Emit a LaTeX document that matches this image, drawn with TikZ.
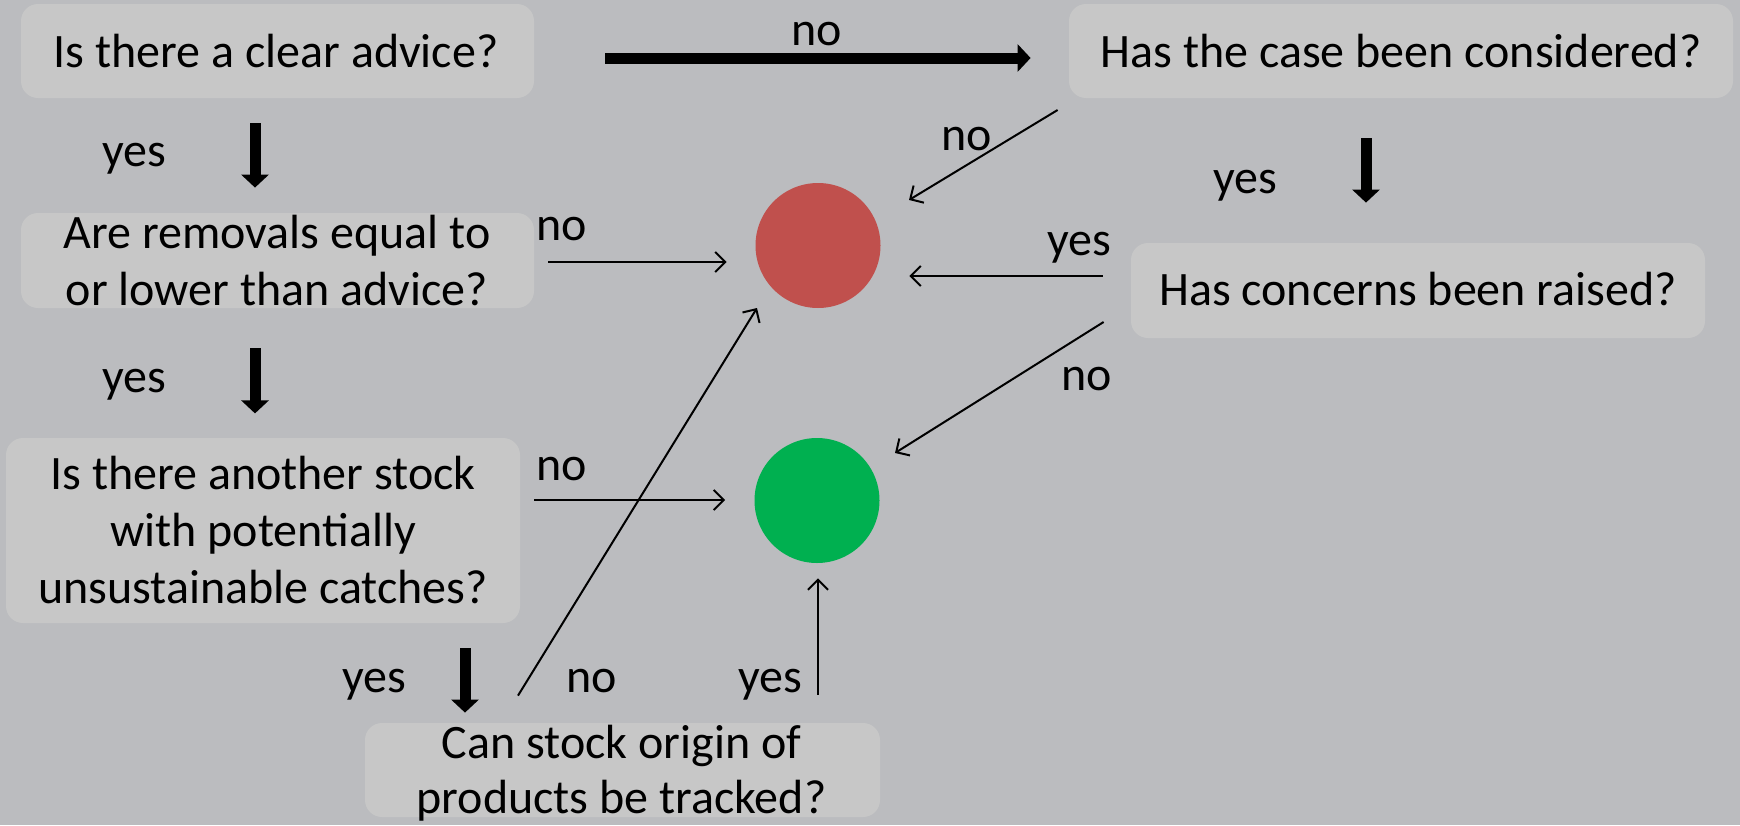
\documentclass[tikz,border=0pt]{standalone}
\usepackage{fontspec}
\setmainfont{Carlito}
\usetikzlibrary{arrows.meta,calc}
\definecolor{bggray}{RGB}{187,188,191}
\definecolor{boxgray}{RGB}{199,199,199}
\definecolor{redc}{RGB}{192,80,77}
\definecolor{greenc}{RGB}{0,176,80}
\tikzset{
  qbox/.style={draw=none, fill=boxgray, rounded corners=8.5pt, inner sep=0pt},
  qtext/.style={align=center, font=\fontsize{24}{28.5}\selectfont, inner sep=0pt, anchor=base},
  lbl/.style={font=\fontsize{24}{28.5}\selectfont, inner sep=0pt, anchor=base},
  bigarrow/.style={line width=5.5pt, -{Triangle[width=13.5pt,length=6.5pt]}},
  thinarrow/.style={line width=1pt, -{Straight Barb[length=5pt,width=10pt]}},
  dot/.style={circle, minimum size=62.5pt, inner sep=0pt, draw=none}
}
\begin{document}
\begin{tikzpicture}[x=0.5pt,y=-0.5pt]
\useasboundingbox (0,0) rectangle (1740,825);
\fill[bggray] (0,0) rectangle (1740,825);
% boxes
\node[qbox, minimum width=256.5pt, minimum height=47pt] (b1) at (277.5,51) {};
\node[qbox, minimum width=256.5pt, minimum height=47.5pt] (b2) at (277.5,260.5) {};
\node[qbox, minimum width=332pt, minimum height=47pt] (b3) at (1401,51) {};
\node[qbox, minimum width=287pt, minimum height=47.5pt] (b4) at (1418,290.5) {};
\node[qbox, minimum width=257pt, minimum height=92.5pt] (b5) at (263,530.5) {};
\node[qbox, minimum width=257.5pt, minimum height=47pt] (b6) at (622.5,770) {};
% texts (multi-line nodes are placed at the baseline of their last line)
\node[qtext] (t1) at (276,67) {Is there a clear advice?};
\node[qtext] (t2) at (277,305) {Are removals equal to\\or lower than advice?};
\node[qtext] (t3) at (1401,67) {Has the case been considered?};
\node[qtext] (t4) at (1418,305) {Has concerns been raised?};
\node[qtext] (t5) at (263,603) {Is there another stock\\with potentially\\unsustainable catches?};
\node[qtext, font=\fontsize{24}{27.5}\selectfont] (t6) at (621.5,813) {Can stock origin of\\products be tracked?};
% circles
\node[dot, fill=redc] (red) at (818,245.5) {};
\node[dot, fill=greenc] (green) at (817,500.5) {};
% thick arrows
\draw[bigarrow] ($(b1.east)+(71,7)$) -- ($(b3.west)+(-38,7)$);
\draw[bigarrow] ($(b1.south)+(-22.5,25)$) -- ($(b2.north)+(-22.5,-25)$);
\draw[bigarrow] ($(b2.south)+(-22.5,40)$) -- ($(b2.south)+(-22.5,105)$);
\draw[bigarrow] ($(b3.south)+(-35,40)$) -- ($(b4.north)+(-52,-40)$);
\draw[bigarrow] ($(b5.south)+(202,25)$) -- ($(b6.north)+(-157.5,-10)$);
% thin arrows
\draw[thinarrow] ($(b2.east)+(14,1.5)$) -- ($(red.west)+(-28.5,16.5)$);
\draw[thinarrow] ($(b5.east)+(14,-30.5)$) -- ($(green.west)+(-29,-0.5)$);
\draw[thinarrow] ($(b3.west)+(-11,59)$) -- ($(red)+(91,-45.5)$);
\draw[thinarrow] ($(b4.west)+(-28,-14.5)$) -- ($(red.east)+(28.5,30.5)$);
\draw[thinarrow] ($(b4.west)+(-27,31.5)$) -- ($(green)+(78,-47.5)$);
\draw[thinarrow] ($(b6.north)+(-104.5,-27)$) -- ($(red)+(-61,62.5)$);
\draw[thinarrow] ($(b6.north)+(195.5,-28)$) -- ($(green.south)+(1,15)$);
% labels
\node[lbl] (l1) at (817,45) {no};
\node[lbl] (l2) at (134,166) {yes};
\node[lbl] (l3) at (134,392) {yes};
\node[lbl] (l4) at (562,240) {no};
\node[lbl] (l5) at (562,480) {no};
\node[lbl] (l6) at (967,150) {no};
\node[lbl] (l7) at (1245,193) {yes};
\node[lbl] (l8) at (1079,255) {yes};
\node[lbl] (l9) at (1087,390) {no};
\node[lbl] (l10) at (374,692) {yes};
\node[lbl] (l11) at (592,692) {no};
\node[lbl] (l12) at (770,692) {yes};
\end{tikzpicture}
\end{document}
